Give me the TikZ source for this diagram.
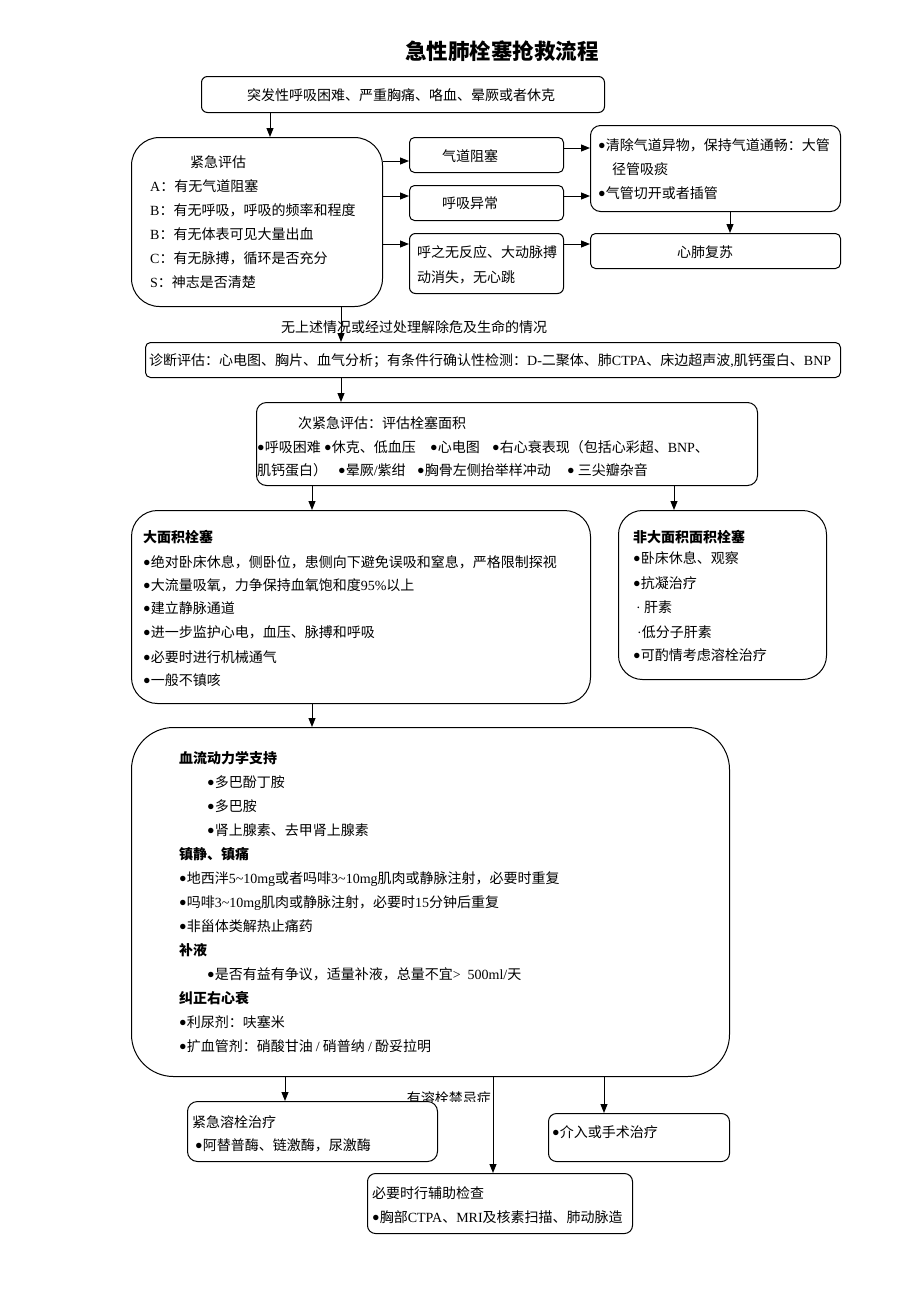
\documentclass[tikz,border=0pt]{standalone}
\usepackage{fontspec}
\setmainfont{Noto Sans CJK SC}
\newfontfamily\lt{Liberation Serif}
\usetikzlibrary{arrows.meta,calc}
\newcommand{\bl}{\raisebox{0.4pt}{\fontsize{12.5pt}{12.5pt}\selectfont\lt ●}}
\tikzset{
 box/.style={draw, line width=1pt, fill=white, inner sep=0pt, anchor=north west},
 txt/.style={inner sep=0pt, anchor=base west, font=\fontsize{14pt}{16pt}\selectfont},
 hd/.style={txt, font=\fontsize{14pt}{16pt}\selectfont\bfseries},
 arr/.style={line width=1pt, -{Triangle[length=9pt,width=7pt]}},
}
\begin{document}
\begin{tikzpicture}[x=1pt,y=-1pt]
\useasboundingbox (0,0) rectangle (920,1302);
% title
\node[inner sep=0pt, anchor=base, font=\fontsize{21.5pt}{24pt}\selectfont\bfseries] (title) at (502,59) {急性肺栓塞抢救流程};
% boxes
\node[box, rounded corners=6pt, minimum width=403pt, minimum height=36pt] (b1) at (201,76) {};
\node[box, rounded corners=28pt, minimum width=251pt, minimum height=169pt] (b2) at (131,137) {};
\node[box, rounded corners=5pt, minimum width=154pt, minimum height=35pt] (bqd) at (409,137) {};
\node[box, rounded corners=5pt, minimum width=154pt, minimum height=35pt] (bhx) at (409,185) {};
\node[box, rounded corners=6pt, minimum width=154pt, minimum height=60pt] (bhz) at (409,233) {};
\node[box, rounded corners=10pt, minimum width=250pt, minimum height=86pt] (bcl) at (590,125) {};
\node[box, rounded corners=5pt, minimum width=250pt, minimum height=35pt] (bxf) at (590,233) {};
\node[box, rounded corners=5pt, minimum width=695pt, minimum height=35pt] (bdg) at (145,342) {};
\node[box, rounded corners=10pt, minimum width=501pt, minimum height=83pt] (bse) at (256,402) {};
\node[box, rounded corners=26pt, minimum width=459pt, minimum height=193pt] (bbig) at (131,510) {};
\node[box, rounded corners=24pt, minimum width=208pt, minimum height=169pt] (bnb) at (618,510) {};
\node[box, rounded corners=42pt, minimum width=598pt, minimum height=349pt] (bhm) at (131,727) {};
% label behind thrombolysis box
\begin{scope}
\clip (395,1080) rectangle (500,1101);
\node[txt, anchor=base east] (lab2) at (491,1103) {有溶栓禁忌症};
\end{scope}
\node[box, rounded corners=10pt, minimum width=250pt, minimum height=60pt] (bth) at (187,1101) {};
\node[box, rounded corners=8pt, minimum width=181pt, minimum height=48pt] (bin) at (548,1113) {};
\node[box, rounded corners=8pt, minimum width=265pt, minimum height=60pt] (bau) at (367,1173) {};
% texts
\node[txt, anchor=base] (t1) at (401,100) {突发性呼吸困难、严重胸痛、咯血、晕厥或者休克};
\node[txt] (e0) at (190,167) {紧急评估};
\node[txt] (e1) at (150,191) {{\lt A}：有无气道阻塞};
\node[txt] (e2) at (150,215) {{\lt B}：有无呼吸，呼吸的频率和程度};
\node[txt] (e3) at (150,239) {{\lt B}：有无体表可见大量出血};
\node[txt] (e4) at (150,263) {{\lt C}：有无脉搏，循环是否充分};
\node[txt] (e5) at (150,287) {{\lt S}：神志是否清楚};
\node[txt] (q1) at (442,161) {气道阻塞};
\node[txt] (h1) at (442,208) {呼吸异常};
\node[txt] (z1) at (417,257) {呼之无反应、大动脉搏};
\node[txt] (z2) at (417,282) {动消失，无心跳};
\node[txt] (c1) at (598,150) {\bl 清除气道异物，保持气道通畅：大管};
\node[txt] (c2) at (612,174) {径管吸痰};
\node[txt] (c3) at (598,198) {\bl 气管切开或者插管};
\node[txt, anchor=base] (x1) at (705,257) {心肺复苏};
\node[txt] (lab1) at (281,332) {无上述情况或经过处理解除危及生命的情况};
\node[txt] (d1) at (149,365) {诊断评估：心电图、胸片、血气分析；有条件行确认性检测：{\lt D-}二聚体、肺{\lt CTPA}、床边超声波{\lt ,}肌钙蛋白、{\lt BNP}};
\node[txt] (s1) at (298,428) {次紧急评估：评估栓塞面积};
\node[txt] (s2a) at (257,452) {\bl 呼吸困难};
\node[txt] (s2b) at (324,452) {\bl 休克、低血压};
\node[txt] (s2c) at (430,452) {\bl 心电图};
\node[txt] (s2d) at (492,452) {\bl 右心衰表现（包括心彩超、{\lt BNP}、};
\node[txt] (s3a) at (257,475) {肌钙蛋白）};
\node[txt] (s3b) at (338,475) {\bl 晕厥{\lt /}紫绀};
\node[txt] (s3c) at (417,475) {\bl 胸骨左侧抬举样冲动};
\node[txt] (s3d) at (567,475) {\bl\ 三尖瓣杂音};
\node[hd] (g0) at (143,542) {大面积栓塞};
\node[txt] (g1) at (143,567) {\bl 绝对卧床休息，侧卧位，患侧向下避免误吸和窒息，严格限制探视};
\node[txt] (g2) at (143,590) {\bl 大流量吸氧，力争保持血氧饱和度{\lt 95\%}以上};
\node[txt] (g3) at (143,613) {\bl 建立静脉通道};
\node[txt] (g4) at (143,637) {\bl 进一步监护心电，血压、脉搏和呼吸};
\node[txt] (g5) at (143,662) {\bl 必要时进行机械通气};
\node[txt] (g6) at (143,685) {\bl 一般不镇咳};
\node[hd] (n0) at (633,542) {非大面积面积栓塞};
\node[txt] (n1) at (633,563) {\bl 卧床休息、观察};
\node[txt] (n2) at (633,588) {\bl 抗凝治疗};
\node[txt] (n3) at (636,612) {{\lt ·} 肝素};
\node[txt] (n4) at (637,637) {{\lt ·}低分子肝素};
\node[txt] (n5) at (633,660) {\bl 可酌情考虑溶栓治疗};
\node[hd] (m0) at (179,763) {血流动力学支持};
\node[txt] (m1) at (207,787) {\bl 多巴酚丁胺};
\node[txt] (m2) at (207,811) {\bl 多巴胺};
\node[txt] (m3) at (207,835) {\bl 肾上腺素、去甲肾上腺素};
\node[hd] (m4) at (179,859) {镇静、镇痛};
\node[txt] (m5) at (179,883) {\bl 地西泮{\lt 5\textasciitilde10mg}或者吗啡{\lt 3\textasciitilde10mg}肌肉或静脉注射，必要时重复};
\node[txt] (m6) at (179,907) {\bl 吗啡{\lt 3\textasciitilde10mg}肌肉或静脉注射，必要时{\lt 15}分钟后重复};
\node[txt] (m7) at (179,931) {\bl 非甾体类解热止痛药};
\node[hd] (m8) at (179,955) {补液};
\node[txt] (m9) at (207,979) {\bl 是否有益有争议，适量补液，总量不宜{\lt >\ \ 500ml/}天};
\node[hd] (m10) at (179,1003) {纠正右心衰};
\node[txt] (m11) at (179,1027) {\bl 利尿剂：呋塞米};
\node[txt] (m12) at (179,1051) {\bl 扩血管剂：硝酸甘油 {\lt /} 硝普纳 {\lt /} 酚妥拉明};
\node[txt] (r1) at (192,1127) {紧急溶栓治疗};
\node[txt] (r2) at (195,1150) {\bl 阿替普酶、链激酶，尿激酶};
\node[txt] (i1) at (552,1137) {\bl 介入或手术治疗};
\node[txt] (a1) at (372,1198) {必要时行辅助检查};
\node[txt] (a2) at (372,1222) {\bl 胸部{\lt CTPA}、{\lt MRI}及核素扫描、肺动脉造};
% connector guides
\coordinate (xa) at (270,0);
\coordinate (xb) at (341,0);
\coordinate (xc) at (730,0);
\coordinate (xd) at (312,0);
\coordinate (xe) at (674,0);
\coordinate (xf) at (285,0);
\coordinate (xg) at (493,0);
\coordinate (xh) at (604,0);
\coordinate (ya) at (0,161);
\coordinate (yb) at (0,196);
\coordinate (yc) at (0,244);
\coordinate (yd) at (0,148);
% connectors
\draw[arr] (b1.south -| xa) -- (b2.north -| xa);
\draw[arr] (b2.east |- ya) -- (bqd.west |- ya);
\draw[arr] (b2.east |- yb) -- (bhx.west |- yb);
\draw[arr] (b2.east |- yc) -- (bhz.west |- yc);
\draw[arr] (bqd.east |- yd) -- (bcl.west |- yd);
\draw[arr] (bhx.east |- yb) -- (bcl.west |- yb);
\draw[arr] (bhz.east |- yc) -- (bxf.west |- yc);
\draw[arr] (bcl.south -| xc) -- (bxf.north -| xc);
\draw[arr] (b2.south -| xb) -- (bdg.north -| xb);
\draw[arr] (bdg.south -| xb) -- (bse.north -| xb);
\draw[arr] (bse.south -| xd) -- (bbig.north -| xd);
\draw[arr] (bse.south -| xe) -- (bnb.north -| xe);
\draw[arr] (bbig.south -| xd) -- (bhm.north -| xd);
\draw[arr] (bhm.south -| xf) -- (bth.north -| xf);
\draw[arr] (bhm.south -| xg) -- (bau.north -| xg);
\draw[arr] (bhm.south -| xh) -- (bin.north -| xh);
\end{tikzpicture}
\end{document}
